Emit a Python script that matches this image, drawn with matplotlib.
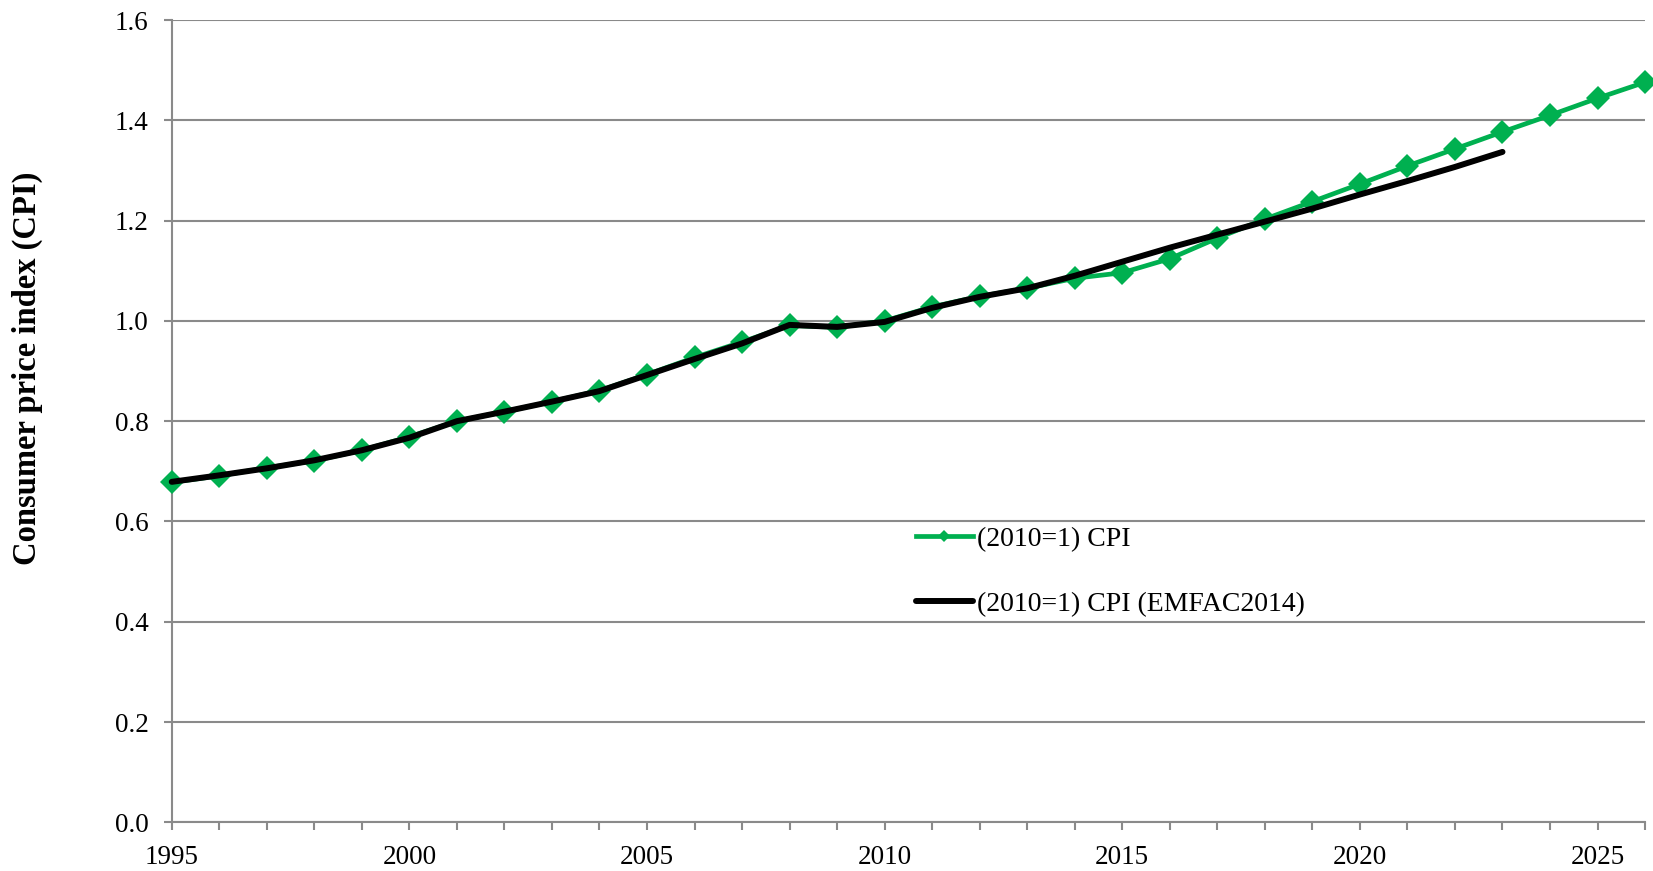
import matplotlib
matplotlib.use("Agg")
import matplotlib.pyplot as plt
from matplotlib.ticker import FixedLocator, FuncFormatter

years_cpi = list(range(1995, 2027))
cpi = [0.678, 0.691, 0.707, 0.721, 0.742, 0.769, 0.800, 0.819, 0.839, 0.861,
       0.893, 0.927, 0.958, 0.991, 0.987, 1.000, 1.028, 1.049, 1.065, 1.085,
       1.096, 1.124, 1.165, 1.203, 1.238, 1.273, 1.309, 1.343, 1.377, 1.410,
       1.444, 1.476]

years_emfac = list(range(1995, 2024))
cpi_emfac = [0.679, 0.692, 0.706, 0.722, 0.742, 0.767, 0.800, 0.819, 0.839, 0.860,
             0.892, 0.924, 0.955, 0.992, 0.988, 0.998, 1.026, 1.048, 1.065, 1.090,
             1.118, 1.146, 1.172, 1.198, 1.224, 1.252, 1.279, 1.307, 1.337]

label_cpi = "(2010=1) CPI"
label_emfac = "(2010=1) CPI (EMFAC2014)"
y_label = "Consumer price index (CPI)"
y_ticks = [0.0, 0.2, 0.4, 0.6, 0.8, 1.0, 1.2, 1.4, 1.6]
x_ticks = list(range(1995, 2027))
x_labeled = [1995, 2000, 2005, 2010, 2015, 2020, 2025]

GREEN = "#00B050"
GRID = "#8a8a8a"
SERIF = ["Liberation Serif", "DejaVu Serif"]

fig = plt.figure(figsize=(16.53, 8.71), dpi=100)
ax = fig.add_axes([0.1039, 0.0559, 0.9952 - 0.1039, 0.977 - 0.0559])

ax.plot(years_cpi, cpi, color=GREEN, lw=3.4, marker="D", markersize=12,
        markeredgewidth=0, clip_on=False, zorder=3, label=label_cpi)
ax.plot(years_emfac, cpi_emfac, color="black", lw=4.3, solid_capstyle="round",
        clip_on=False, zorder=4, label=label_emfac)

ax.set_xlim(1995, 2026)
ax.set_ylim(0, 1.6)
ax.yaxis.set_major_locator(FixedLocator(y_ticks))
ax.yaxis.set_major_formatter(FuncFormatter(lambda v, p: f"{v:.1f}"))
ax.xaxis.set_major_locator(FixedLocator(x_ticks))
ax.xaxis.set_major_formatter(FuncFormatter(lambda v, p: str(int(round(v))) if int(round(v)) in x_labeled else ""))

ax.grid(axis="y", color=GRID, lw=1.5)
ax.set_axisbelow(True)
for s in ["top", "right"]:
    ax.spines[s].set_visible(False)
for s in ["left", "bottom"]:
    ax.spines[s].set_color(GRID)
    ax.spines[s].set_linewidth(1.5)
ax.tick_params(axis="y", direction="out", length=5.5, width=1.5, color=GRID, pad=11,
               labelsize=19.5)
ax.tick_params(axis="x", direction="out", length=5.5, width=1.5, color=GRID, pad=11,
               labelsize=19.5)
for lab in ax.get_xticklabels() + ax.get_yticklabels():
    lab.set_family(SERIF)

fig.text(27 / 1653, 1 - 368 / 871, y_label, rotation=90, ha="center", va="center",
         family=SERIF, fontsize=23.5, fontweight="bold")

leg = ax.legend(loc="center left", bbox_to_anchor=(916 / 1653, 1 - 571.6 / 871),
                bbox_transform=fig.transFigure, frameon=False, borderpad=0,
                borderaxespad=0, handlelength=2.05, handletextpad=0.15,
                labelspacing=1.41, markerscale=0.55,
                prop={"family": SERIF, "size": 20})

fig.savefig("out.png", dpi=100)
